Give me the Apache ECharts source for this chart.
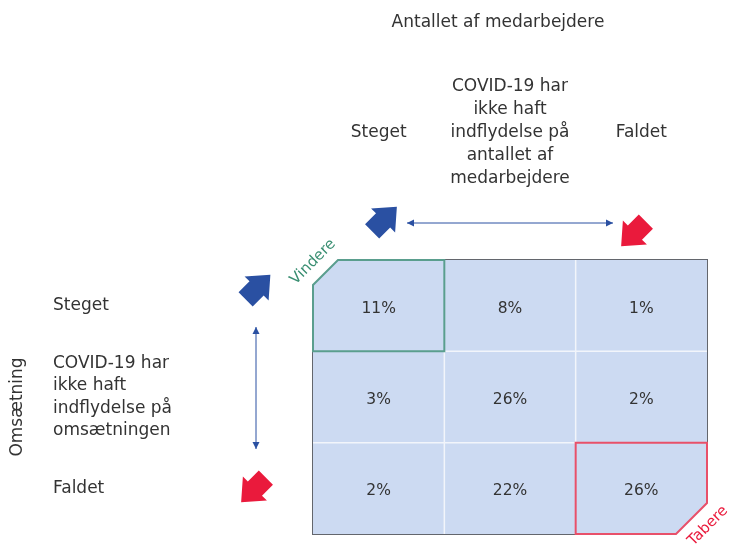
<!DOCTYPE html>
<html>
<head>
<meta charset="utf-8">
<script src="https://cdn.jsdelivr.net/npm/echarts@6/dist/echarts.min.js"></script>
<style>
    html, body { margin: 0; padding: 0; background: #fff; }
    #chart { width: 729px; height: 546px; }
</style>
</head>
<body>
<div id="chart"></div>
<script>
    // kolonner (antallet af medarbejdere) og rækker (omsætning)
    var colLabels = ['Steget', 'COVID-19 har\nikke haft\nindflydelse på\nantallet af\nmedarbejdere', 'Faldet'];
    var rowLabels = ['Steget', 'COVID-19 har\nikke haft\nindflydelse på\nomsætningen', 'Faldet'];
    // andel i procent, række for række
    var rowSteget = [11, 8, 1];
    var rowUaendret = [3, 26, 2];
    var rowFaldet = [2, 22, 26];

    var xTitle = 'Antallet af medarbejdere';
    var yTitle = 'Omsætning';
    var winLabel = 'Vindere';
    var loseLabel = 'Tabere';

    var FONT = '"DejaVu Sans", sans-serif';
    var textColor = '#333333';
    var cellColor = '#ccdaf2';
    var blue = '#2a50a2';
    var red = '#ea1a3c';
    var green = '#3a8f72';

    var cells = [];
    [rowSteget, rowUaendret, rowFaldet].forEach(function (row, r) {
        row.forEach(function (v, c) {
            cells.push([c, r, v]);
        });
    });

    function renderCell(params, api) {
        var cx = api.value(0), cy = api.value(1);
        var p = api.coord([cx, cy]);
        var s = api.size([1, 1]);
        var x0 = p[0] - s[0] / 2, y0 = p[1] - s[1] / 2;
        var x1 = x0 + s[0], y1 = y0 + s[1];
        var pts = [[x0, y0], [x1, y0], [x1, y1], [x0, y1]];
        var children = [];
        var stroke = null, lw = 0, z2 = 1;
        if (cx === 0 && cy === 0) {
            var cut = 25;
            pts = [[x0 + cut, y0], [x1, y0], [x1, y1], [x0, y1], [x0, y0 + cut]];
            children.push({ type: 'polygon', shape: { points: [[x0 - 3, y0 - 3], [x0 + cut, y0 - 3], [x0 + cut, y0], [x0, y0 + cut], [x0 - 3, y0 + cut]] },
                style: { fill: '#fff' }, z2: 5 });
            stroke = '#5a9e8e'; lw = 2; z2 = 10;
        } else if (cx === 2 && cy === 2) {
            var cut2 = 31;
            pts = [[x0, y0], [x1, y0], [x1, y1 - cut2], [x1 - cut2, y1], [x0, y1]];
            children.push({ type: 'polygon', shape: { points: [[x1 + 3, y1 - cut2], [x1 + 3, y1 + 3], [x1 - cut2, y1 + 3], [x1 - cut2, y1], [x1, y1 - cut2]] },
                style: { fill: '#fff' }, z2: 5 });
            stroke = '#e8506a'; lw = 2; z2 = 10;
        }
        children.push({
            type: 'polygon',
            shape: { points: pts },
            style: { fill: cellColor, stroke: stroke, lineWidth: lw },
            z2: z2
        });
        // lyse skillelinjer mellem felterne
        if (cx < 2) {
            children.push({ type: 'line', shape: { x1: x1, y1: y0, x2: x1, y2: y1 }, style: { stroke: '#f2f5fb', lineWidth: 1.5 }, z2: 3 });
        }
        if (cy < 2) {
            children.push({ type: 'line', shape: { x1: x0, y1: y1, x2: x1, y2: y1 }, style: { stroke: '#f2f5fb', lineWidth: 1.5 }, z2: 3 });
        }
        children.push({
            type: 'text',
            style: { text: api.value(2) + '%', x: p[0], y: p[1] + 3, align: 'center', verticalAlign: 'middle',
                fill: textColor, font: '15.5px ' + FONT },
            z2: 20
        });
        return { type: 'group', children: children };
    }

    // tyk pil, peger mod højre før rotation (origo = midt på pilens akse)
    var blockArrow = [[-17.5, -10], [-2, -10], [-2, -17], [17.5, 0], [-2, 17], [-2, 10], [-17.5, 10]];
    function bigArrow(x, y, rot, color) {
        return { type: 'polygon', x: x, y: y, rotation: rot, z: 50, shape: { points: blockArrow }, style: { fill: color } };
    }
    function thinArrow(x1, y1, x2, y2) {
        var horiz = y1 === y2;
        var h = 7, w = 3.5;
        var head1, head2;
        if (horiz) {
            head1 = [[x1, y1], [x1 + h, y1 - w], [x1 + h, y1 + w]];
            head2 = [[x2, y2], [x2 - h, y2 - w], [x2 - h, y2 + w]];
        } else {
            head1 = [[x1, y1], [x1 - w, y1 + h], [x1 + w, y1 + h]];
            head2 = [[x2, y2], [x2 - w, y2 - h], [x2 + w, y2 - h]];
        }
        return [
            { type: 'line', z: 50, shape: { x1: x1, y1: y1, x2: x2, y2: y2 }, style: { stroke: blue, lineWidth: 1 } },
            { type: 'polygon', z: 50, shape: { points: head1 }, style: { fill: blue } },
            { type: 'polygon', z: 50, shape: { points: head2 }, style: { fill: blue } }
        ];
    }

    var chart = echarts.init(document.getElementById('chart'));
    var option = {
        backgroundColor: '#fff',
        animation: false,
        grid: { left: 313, top: 260, width: 394, height: 274, show: true, borderColor: '#63666d', borderWidth: 2, backgroundColor: 'transparent' },
        xAxis: {
            type: 'category', data: colLabels, position: 'top',
            axisLine: { show: false }, axisTick: { show: false }, splitLine: { show: false },
            axisLabel: { margin: 127, verticalAlign: 'middle', align: 'center', lineHeight: 23,
                color: textColor, fontSize: 17, fontFamily: FONT, interval: 0 }
        },
        yAxis: {
            type: 'category', data: rowLabels, inverse: true,
            axisLine: { show: false }, axisTick: { show: false }, splitLine: { show: false },
            axisLabel: { margin: 260, align: 'left', lineHeight: 22.5, padding: [6, 0, 0, 0],
                color: textColor, fontSize: 17, fontFamily: FONT, interval: 0 }
        },
        series: [{
            type: 'custom',
            renderItem: renderCell,
            data: cells,
            encode: { x: 0, y: 1 }
        }],
        graphic: [
            { type: 'text', z: 50, x: 498, y: 23, style: { text: xTitle, align: 'center', verticalAlign: 'middle', fill: textColor, font: '17px ' + FONT } },
            { type: 'text', z: 50, x: 18, y: 407, rotation: Math.PI / 2, style: { text: yTitle, align: 'center', verticalAlign: 'middle', fill: textColor, font: '17px ' + FONT } },
            { type: 'text', z: 50, x: 313, y: 262, rotation: Math.PI / 4, style: { text: winLabel, align: 'center', verticalAlign: 'middle', fill: green, font: '15px ' + FONT } },
            { type: 'text', z: 50, x: 708, y: 526, rotation: Math.PI / 4, style: { text: loseLabel, align: 'center', verticalAlign: 'middle', fill: red, font: '15px ' + FONT } },
            bigArrow(384.5, 219, Math.PI / 4, blue),
            bigArrow(258, 287, Math.PI / 4, blue),
            bigArrow(633.5, 234, -3 * Math.PI / 4, red),
            bigArrow(253.5, 490, -3 * Math.PI / 4, red)
        ].concat(thinArrow(407, 223, 613, 223)).concat(thinArrow(256, 327, 256, 449))
    };
    chart.setOption(option);
</script>
</body>
</html>
